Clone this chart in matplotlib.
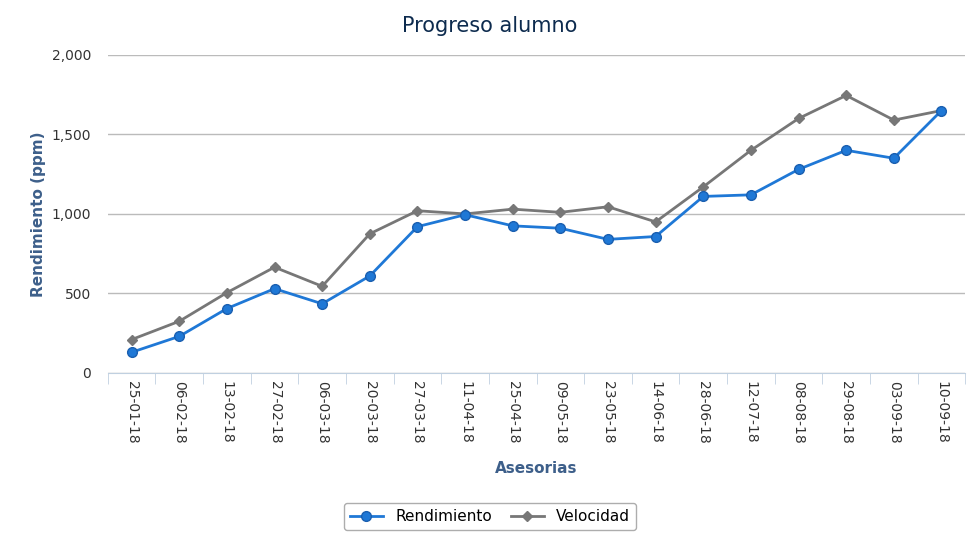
import matplotlib.pyplot as plt
import numpy as np

fechas = ["25-01-18", "06-02-18", "13-02-18", "27-02-18", "06-03-18", "20-03-18",
          "27-03-18", "11-04-18", "25-04-18", "09-05-18", "23-05-18", "14-06-18",
          "28-06-18", "12-07-18", "08-08-18", "29-08-18", "03-09-18", "10-09-18"]
rendimiento = [130, 230, 405, 530, 435, 610, 920, 995, 925, 910, 840, 858,
               1110, 1120, 1280, 1400, 1350, 1650]
velocidad = [210, 325, 505, 665, 545, 875, 1020, 1000, 1030, 1010, 1045, 950,
             1170, 1400, 1600, 1745, 1590, 1650]

fig = plt.figure(figsize=(9.8, 5.6), dpi=100)
ax = fig.add_axes([0.11, 0.334, 0.875, 0.568])
x = np.arange(len(fechas))

ax.plot(x, velocidad, color="#777777", lw=2, marker="D", ms=5, label="Velocidad")
ax.plot(x, rendimiento, color="#1f78d6", lw=2, marker="o", ms=7,
        markeredgecolor="#1a5fb0", label="Rendimiento")

ax.set_xlim(-0.5, len(fechas) - 0.5)
ax.set_ylim(0, 2000)
ax.set_yticks([0, 500, 1000, 1500, 2000])
ax.set_yticklabels(["0", "500", "1,000", "1,500", "2,000"], color="#333333", fontsize=10)
ax.grid(axis="y", color="#bbbbbb", lw=1)
ax.set_axisbelow(True)
for s in ["top", "right", "left"]:
    ax.spines[s].set_visible(False)
ax.spines["bottom"].set_color("#c0d0e0")
ax.tick_params(axis="y", length=0, pad=12)

ax.set_xticks(x)
ax.set_xticklabels(fechas, rotation=270, color="#333333", fontsize=10)
ax.tick_params(axis="x", length=0, pad=6)
ax.set_xticks(np.arange(-0.5, len(fechas)), minor=True)
ax.tick_params(axis="x", which="minor", length=8, color="#c0d0e0")

fig.text(0.5, 0.953, "Progreso alumno", fontsize=15, color="#0d2b4e", ha="center", va="center")
ax.set_ylabel("Rendimiento (ppm)", fontsize=11, fontweight="bold", color="#3d5f8a")
ax.set_xlabel("Asesorias", fontsize=11, fontweight="bold", color="#3d5f8a", labelpad=12)

h, l = ax.get_legend_handles_labels()
leg = fig.legend(h[::-1], l[::-1], loc="center", bbox_to_anchor=(0.5, 0.077), ncol=2,
                 frameon=True, fontsize=11, fancybox=True, edgecolor="#999999",
                 handlelength=2.2, columnspacing=1.2)
leg.get_frame().set_linewidth(1)

fig.savefig("out.png", dpi=100)
